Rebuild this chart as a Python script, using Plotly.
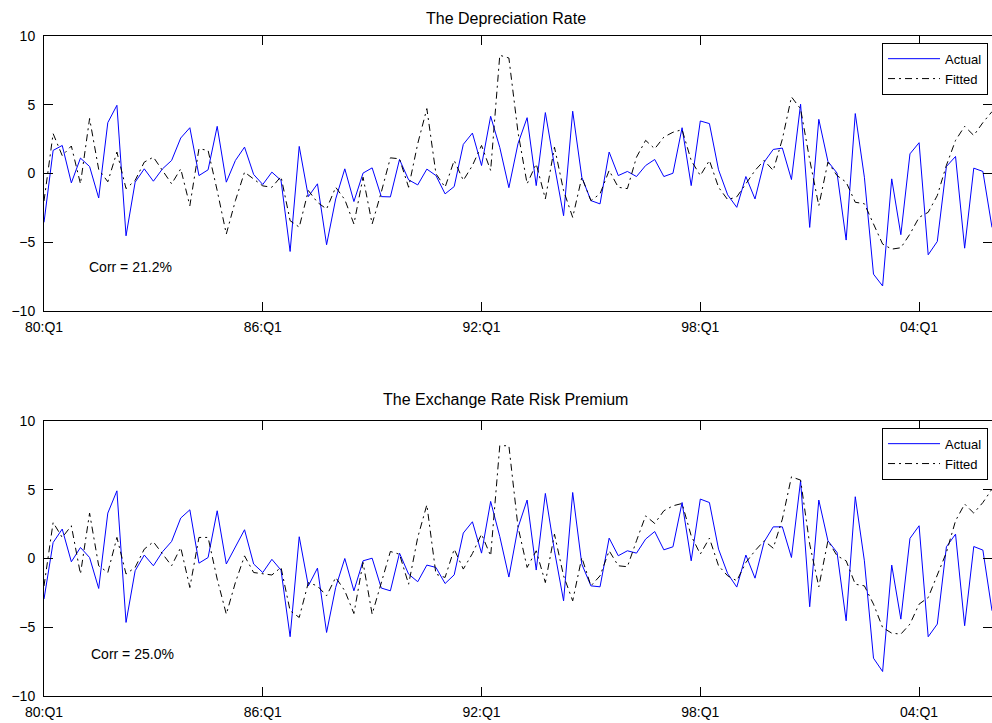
import plotly.graph_objects as go

# ---- data ----
quarters = [f"{(80 + k // 4) % 100:02d}:Q{k % 4 + 1}" for k in range(105)]
tick_labels = ["80:Q1", "86:Q1", "92:Q1", "98:Q1", "04:Q1"]
y_ticks = [-10, -5, 0, 5, 10]

dep_actual = [-3.55, 1.68, 2.04, -0.68, 1.12, 0.51, -1.78, 3.7, 4.96, -4.53,
              -0.63, 0.34, -0.56, 0.34, 0.95, 2.58, 3.33, -0.15, 0.27, 3.43,
              -0.63, 0.95, 1.92, -0.07, -0.8, 0.1, -0.5, -5.67, 1.97, -1.68,
              -0.75, -5.18, -1.85, 0.34, -2.04, 0.03, 0.41, -1.68, -1.7, 1.02,
              -0.46, -0.83, 0.32, -0.15, -1.48, -0.95, 2.12, 2.94, 0.58, 4.16,
              1.9, -1.03, 2.17, 4.06, -0.88, 4.43, 0.58, -3.07, 4.53, -0.27,
              -1.97, -2.21, 1.56, -0.15, 0.15, -0.22, 0.58, 1.02, -0.22, 0.02,
              3.33, -0.88, 3.82, 3.63, 0.27, -1.55, -2.46, -0.22, -1.85, 0.83,
              1.75, 1.85, -0.44, 5.04, -3.92, 3.94, 0.88, 0.03, -4.84, 4.36,
              -0.27, -7.32, -8.18, -0.39, -4.45, 1.43, 2.24, -5.91, -4.94, 0.51,
              1.24, -5.43, 0.39, 0.15, -3.92]

dep_fitted = [-2.0, 2.9, 1.3, 2.0, -0.75, 4.0, 0.3, -0.6, 1.56, -1.1,
              -0.5, 0.83, 1.19, 0.2, -0.75, 0.34, -2.34, 1.8, 1.68, -1.24,
              -4.4, -1.97, 0.1, -0.4, -0.9, -1.0, -0.22, -3.43, -3.9, -1.24,
              -2.1, -2.58, -1.0, -1.9, -3.67, -0.27, -3.67, -1.36, 1.14, 1.07,
              -1.0, 2.17, 4.72, -0.02, -1.0, 0.95, -0.5, 0.58, 2.04, 0.22,
              8.6, 8.4, 3.0, -0.75, 0.7, -1.85, 1.92, -1.24, -3.19, -0.27,
              -1.97, -1.48, 0.22, -1.0, -1.1, 1.19, 2.41, 1.8, 2.65, 3.0,
              3.19, 0.95, -0.15, 0.95, -1.0, -1.9, -1.7, -0.75, 0.22, 0.95,
              0.22, 2.5, 5.57, 4.7, 1.0, -2.34, 0.83, -0.15, -0.63, -2.09,
              -2.2, -3.67, -5.13, -5.5, -5.4, -4.4, -3.19, -2.82, -1.6, 0.6,
              2.41, 3.43, 2.77, 3.7, 4.5]

rp_actual = [-2.95, 1.16, 2.14, -0.24, 0.8, 0.07, -2.18, 3.3, 4.92, -4.65,
             -0.89, 0.25, -0.53, 0.49, 1.24, 2.94, 3.54, -0.34, 0.07, 3.47,
             -0.4, 0.87, 2.09, -0.4, -1.02, -0.06, -0.85, -5.69, 1.58, -1.99,
             -0.7, -5.38, -2.1, 0.0, -2.35, -0.17, 0.02, -2.15, -2.35, 0.39,
             -1.14, -1.69, -0.48, -0.65, -1.82, -1.19, 1.85, 2.67, 0.39, 4.15,
             1.6, -1.35, 2.25, 4.25, -0.84, 4.73, 0.56, -3.08, 4.8, -0.41,
             -1.99, -2.06, 1.48, 0.2, 0.56, 0.39, 1.41, 1.96, 0.63, 0.85,
             4.07, -0.17, 4.32, 4.07, 0.68, -1.1, -2.08, 0.25, -1.43, 1.21,
             2.3, 2.3, 0.07, 5.65, -3.51, 4.25, 1.29, 0.44, -4.53, 4.49,
             -0.17, -7.25, -8.22, -0.48, -4.41, 1.46, 2.38, -5.69, -4.77, 0.85,
             1.77, -4.89, 0.87, 0.61, -3.8]

rp_fitted = [-2.0, 2.62, 1.53, 2.38, -1.13, 3.3, -0.53, -1.02, 1.53, -1.13,
             -0.65, 0.68, 1.21, 0.31, -0.53, 0.8, -2.11, 1.53, 1.53, -1.5,
             -4.05, -1.74, 0.19, -1.02, -1.13, -1.2, -0.65, -3.8, -4.29, -1.75,
             -2.0, -2.71, -1.38, -2.35, -4.0, -0.29, -4.05, -1.75, 0.51, 0.31,
             -1.87, 1.53, 3.9, -1.14, -1.38, 0.68, -0.77, 0.36, 1.77, 0.19,
             8.2, 8.2, 2.3, -0.65, 0.56, -1.75, 1.77, -1.26, -3.08, 0.07,
             -1.99, -1.26, 0.56, -0.53, -0.6, 1.29, 3.1, 2.55, 3.47, 3.83,
             4.0, 1.65, 0.32, 1.48, -0.53, -1.26, -1.62, -0.29, 0.56, 1.29,
             0.75, 2.86, 5.94, 5.7, 1.04, -2.06, 1.29, 0.2, -0.17, -1.87,
             -1.99, -3.32, -5.02, -5.43, -5.5, -4.77, -3.32, -2.84, -1.26, 0.44,
             2.74, 3.96, 3.3, 4.07, 5.05]

titles = ["The Depreciation Rate", "The Exchange Rate Risk Premium"]
corr_texts = ["Corr = 21.2%", "Corr = 25.0%"]

# ---- style ----
FONT = "Liberation Sans, Arial, Helvetica, sans-serif"
BLUE = "#0000FF"
DASHDOT = "7px,4px,2px,4px"

fig = go.Figure()

fig.add_trace(go.Scatter(x=quarters, y=dep_actual, mode="lines", name="Actual",
                         line=dict(color=BLUE, width=1), xaxis="x", yaxis="y",
                         legend="legend"))
fig.add_trace(go.Scatter(x=quarters, y=dep_fitted, mode="lines", name="Fitted",
                         line=dict(color="black", width=1, dash=DASHDOT),
                         xaxis="x", yaxis="y", legend="legend"))
fig.add_trace(go.Scatter(x=quarters, y=rp_actual, mode="lines", name="Actual",
                         line=dict(color=BLUE, width=1), xaxis="x2", yaxis="y2",
                         legend="legend2"))
fig.add_trace(go.Scatter(x=quarters, y=rp_fitted, mode="lines", name="Fitted",
                         line=dict(color="black", width=1, dash=DASHDOT),
                         xaxis="x2", yaxis="y2", legend="legend2"))

xcommon = dict(type="category", range=[0, 104], tickmode="array",
               tickvals=tick_labels, ticktext=tick_labels,
               ticks="inside", ticklen=9, tickcolor="black", tickwidth=1,
               showline=True, linecolor="black", linewidth=1, mirror="ticks",
               showgrid=False, zeroline=False,
               tickfont=dict(family=FONT, size=14, color="black"),
               ticklabelstandoff=3)
ycommon = dict(range=[-10, 10], tickmode="array", tickvals=y_ticks,
               ticks="inside", ticklen=9, tickcolor="black", tickwidth=1,
               showline=True, linecolor="black", linewidth=1, mirror="ticks",
               showgrid=False, zeroline=False,
               tickfont=dict(family=FONT, size=14, color="black"),
               ticklabelstandoff=5)

legcommon = dict(bgcolor="white", bordercolor="black", borderwidth=1,
                 font=dict(family=FONT, size=13, color="black"),
                 xref="paper", yref="paper", x=0.9958, xanchor="right",
                 yanchor="top", itemwidth=52, tracegroupgap=0)

fig.update_layout(
    width=992, height=723,
    margin=dict(l=44, r=0, t=36, b=27),
    paper_bgcolor="white", plot_bgcolor="white",
    font=dict(family=FONT, size=14, color="black"),
    showlegend=True,
    xaxis=dict(domain=[0, 1], anchor="y", **xcommon),
    yaxis=dict(domain=[0.5833, 1], anchor="x", **ycommon),
    xaxis2=dict(domain=[0, 1], anchor="y2", **xcommon),
    yaxis2=dict(domain=[0, 0.4167], anchor="x2", **ycommon),
    legend=dict(y=0.9898, **legcommon),
    legend2=dict(y=0.4065, **legcommon),
)

annotations = [
    dict(text=titles[0], xref="paper", yref="paper", x=0.487, y=1.027,
         xanchor="center", yanchor="middle", showarrow=False,
         font=dict(family=FONT, size=16, color="black")),
    dict(text=titles[1], xref="paper", yref="paper", x=0.487, y=0.449,
         xanchor="center", yanchor="middle", showarrow=False,
         font=dict(family=FONT, size=16, color="black")),
    dict(text=corr_texts[0], xref="x", yref="y", x=4.75, y=-6.8,
         xanchor="left", yanchor="middle", showarrow=False,
         font=dict(family=FONT, size=14, color="black")),
    dict(text=corr_texts[1], xref="x2", yref="y2", x=4.95, y=-6.95,
         xanchor="left", yanchor="middle", showarrow=False,
         font=dict(family=FONT, size=14, color="black")),
]
fig.update_layout(annotations=annotations)

fig.write_html("out.html", config={"displayModeBar": False},
               post_script="document.body.style.margin='0';document.body.style.overflow='hidden';")
